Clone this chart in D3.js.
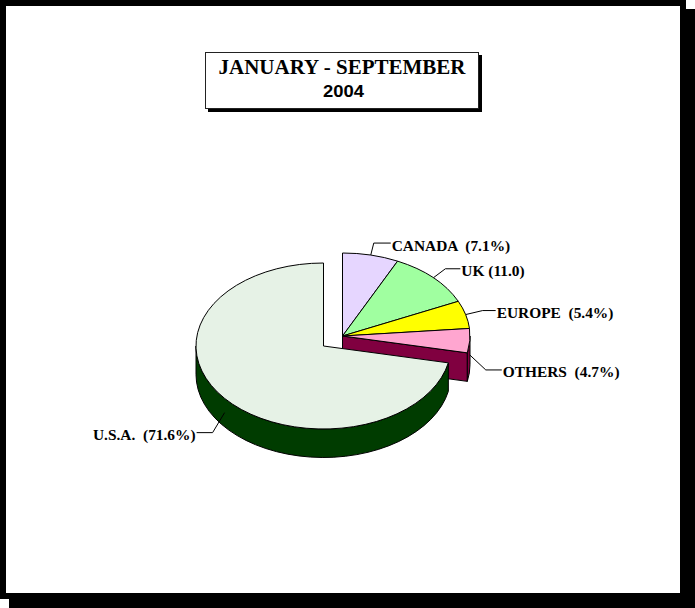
<!DOCTYPE html>
<html>
<head>
<meta charset="utf-8">
<script src="https://cdn.jsdelivr.net/npm/d3@7"></script>
<style>
  body { margin: 0; background: #fff; }
  svg { display: block; }
  .top { vector-effect: non-scaling-stroke; }
  .label { font-family: "Liberation Serif", serif; font-weight: bold; font-size: 15.4px; white-space: pre; }
</style>
</head>
<body>
<div id="chart"></div>
<script>
// values as printed on the chart, clockwise from 12 o'clock
var categories = ["CANADA", "UK", "EUROPE", "OTHERS", "U.S.A."];
var values = [7.1, 11.0, 5.4, 4.7, 71.6];
var labels = ["CANADA  (7.1%)", "UK (11.0)", "EUROPE  (5.4%)", "OTHERS  (4.7%)", "U.S.A.  (71.6%)"];
var titleLine1 = "JANUARY - SEPTEMBER";
var titleLine2 = "2004";

var topColors = { "CANADA": "#e6d6ff", "UK": "#a0ffa0", "EUROPE": "#ffff00", "OTHERS": "#ffa6d0", "U.S.A.": "#e6f2e6" };
var wallColors = { "OTHERS": "#800040", "U.S.A.": "#003c00" };

var svg = d3.select("#chart").append("svg")
    .attr("width", 695)
    .attr("height", 608);

// page frame with its shadow
svg.append("rect").attr("x", 9).attr("y", 9).attr("width", 686).attr("height", 599).attr("fill", "#000");
svg.append("rect").attr("x", 3).attr("y", 3).attr("width", 680).attr("height", 593)
    .attr("fill", "#fff").attr("stroke", "#000").attr("stroke-width", 6);

// title box
svg.append("rect").attr("x", 208).attr("y", 55).attr("width", 274).attr("height", 57).attr("fill", "#000");
svg.append("rect").attr("x", 205.5).attr("y", 52.5).attr("width", 273).attr("height", 56)
    .attr("fill", "#fff").attr("stroke", "#222").attr("stroke-width", 1);
svg.append("text").attr("x", 342).attr("y", 74)
    .attr("text-anchor", "middle")
    .style("font-family", "'Liberation Serif', serif").style("font-weight", "bold").style("font-size", "21px")
    .text(titleLine1);
svg.append("text").attr("x", 343.5).attr("y", 96.5)
    .attr("text-anchor", "middle")
    .attr("textLength", 41)
    .attr("lengthAdjust", "spacingAndGlyphs")
    .style("font-family", "'Liberation Sans', sans-serif").style("font-weight", "bold").style("font-size", "16.5px")
    .text(titleLine2);

// pie geometry
var rx = 127.5, ry = 83, depth = 28.5;
var mainCentre = { x: 323.5, y: 346 };
var explodedCentre = { x: 342.5, y: 336 };

var pie = d3.pie().sort(null).value(function (d) { return d.value; });
var slices = pie(categories.map(function (c, i) {
    return { name: c, value: values[i], label: labels[i] };
}));

var arc = d3.arc().innerRadius(0).outerRadius(1);

function centreOf(s) {
    return s.data.name === "U.S.A." ? mainCentre : explodedCentre;
}

function rim(c, a) {
    return [c.x + rx * Math.sin(a), c.y - ry * Math.cos(a)];
}

// the outer wall, only the part that faces the viewer
function wallPath(c, a0, a1) {
    var from = Math.max(a0, Math.PI / 2), to = Math.min(a1, 3 * Math.PI / 2);
    if (from >= to) return null;
    var p0 = rim(c, from), p1 = rim(c, to);
    var large = to - from > Math.PI ? 1 : 0;
    return "M" + p0 + "A" + rx + "," + ry + " 0 " + large + " 1 " + p1 +
        "L" + p1[0] + "," + (p1[1] + depth) +
        "A" + rx + "," + ry + " 0 " + large + " 0 " + p0[0] + "," + (p0[1] + depth) + "Z";
}

// cut face along the end angle of a slice, seen because it is pulled out
function facePath(c, a) {
    var p = rim(c, a);
    return "M" + c.x + "," + c.y + "L" + p + "L" + p[0] + "," + (p[1] + depth) +
        "L" + c.x + "," + (c.y + depth) + "Z";
}

var pieG = svg.append("g");

function drawSlice(s) {
    var c = centreOf(s);
    var color = wallColors[s.data.name];
    if (color) {
        if (s.data.name === "OTHERS") {
            pieG.append("path").attr("d", facePath(c, s.endAngle))
                .attr("fill", color).attr("stroke", "#000").attr("stroke-width", 1);
        }
        var w = wallPath(c, s.startAngle, s.endAngle);
        if (w) {
            pieG.append("path").attr("d", w)
                .attr("fill", color).attr("stroke", "#000").attr("stroke-width", 1);
        }
    }
    pieG.append("path")
        .attr("class", "top")
        .attr("d", arc(s))
        .attr("transform", "translate(" + c.x + "," + c.y + ") scale(" + rx + "," + ry + ")")
        .attr("fill", topColors[s.data.name])
        .attr("stroke", "#000")
        .attr("stroke-width", 1);
}

slices.forEach(drawSlice);

// leader elbows, same order as categories
var elbows = [
    { dx: 3, dy: -12, run: 17 },
    { dx: 12, dy: -9, run: 15 },
    { dx: 17, dy: -4, run: 13 },
    { dx: 16, dy: 15, run: 16 },
    { dx: -12, dy: 20, run: -16 }
];

slices.forEach(function (s, i) {
    var c = centreOf(s);
    var mid = (s.startAngle + s.endAngle) / 2;
    var p = rim(c, mid);
    // leaders on the front of the pie start half way down the wall
    var y0 = Math.cos(mid) < 0 ? p[1] + depth / 2 : p[1];
    var e = elbows[i];
    var ex = p[0] + e.dx, ey = y0 + e.dy, endX = ex + e.run;
    svg.append("path")
        .attr("d", d3.line()([[p[0], y0], [ex, ey], [endX, ey]]))
        .attr("fill", "none")
        .attr("stroke", "#000")
        .attr("stroke-width", 1);
    svg.append("text")
        .attr("class", "label")
        .attr("x", endX + (e.run < 0 ? -1 : 1))
        .attr("y", ey + 7.5)
        .attr("text-anchor", e.run < 0 ? "end" : "start")
        .text(s.data.label);
});
</script>
</body>
</html>
